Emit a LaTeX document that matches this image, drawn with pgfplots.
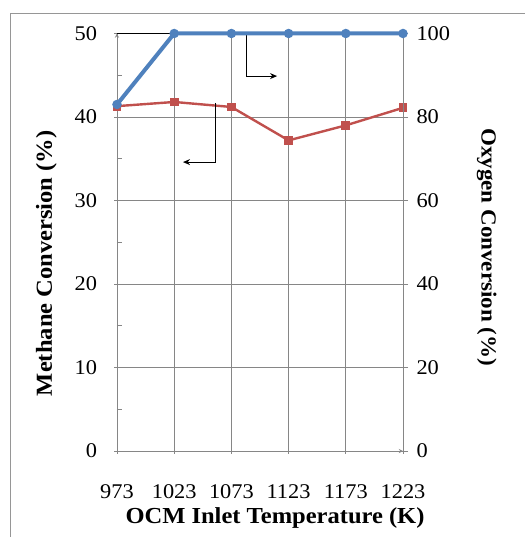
\documentclass[border=0pt]{standalone}
\usepackage{pgfplots}
\pgfplotsset{compat=1.18}
\usepackage{fontspec}
\setmainfont{Liberation Serif}[FakeStretch=1.07]
\usetikzlibrary{arrows.meta,calc}

\definecolor{oxblue}{RGB}{79,129,189}
\definecolor{mered}{RGB}{192,80,77}
\definecolor{gridgray}{RGB}{134,134,134}
\definecolor{framegray}{RGB}{150,150,150}

\pgfplotstableread{
T     methane
973   41.3
1023  41.8
1073  41.2
1123  37.2
1173  39.0
1223  41.1
}\methanedata

\pgfplotstableread{
T     oxygen
973   83.0
1023  100
1073  100
1123  100
1173  100
1223  100
}\oxygendata

\pgfplotsset{
  common/.style={
    scale only axis, width=286bp, height=417.5bp,
    xmin=973, xmax=1223,
    clip=false,
    tick align=outside,
    major tick length=5bp,
    axis line style={gridgray, line width=0.9bp, -},
    every tick/.style={gridgray, line width=0.9bp},
    /pgf/number format/assume math mode=true,
    ticklabel style={font=\fontsize{21}{25}\selectfont},
    label style={font=\fontsize{23}{27}\selectfont\bfseries},
  }
}

\begin{document}
\begin{tikzpicture}

% methane conversion, left scale
\begin{axis}[
  common,
  name=main,
  ymin=0, ymax=50,
  axis x line=bottom, axis y line=left,
  xtick={973,1023,...,1223},
  xticklabels={973,1023,1073,1123,1173,1223},
  ytick={0,10,...,50},
  grid=major,
  major grid style={gridgray, line width=0.9bp},
  yticklabel style={xshift=-14bp},
  xticklabel style={yshift=-28bp},
  xlabel={OCM Inlet Temperature (K)},
  xlabel style={xshift=15bp, yshift=-2bp},
  ylabel={Methane Conversion (\%)},
  ylabel style={yshift=11bp, xshift=-21bp},
]
  \draw[black, line width=1bp] (axis cs:973,50) -- (axis cs:1023,50);
  % short inner minor ticks on the left scale
  \pgfplotsinvokeforeach{5,15,25,35,45}{
    \draw[gridgray, line width=0.9bp] (axis cs:973,#1) -- ++(5bp,0bp);
  }
  \addplot[mered, line width=2.4bp, mark=square*, mark size=3.2bp,
    mark options={solid, fill=mered}] table[x=T, y=methane] {\methanedata};
  % arrow pointing to the left scale
  \draw[black, line width=1bp, -{Stealth[length=7bp, width=6bp]}]
    (axis cs:1058.7,41.7) -- (axis cs:1058.7,34.6) -- (axis cs:1030.7,34.6);
  % arrow pointing to the right scale
  \draw[black, line width=1bp, -{Stealth[length=7bp, width=6bp]}]
    (axis cs:1085.8,50) -- (axis cs:1085.8,44.9) -- (axis cs:1112.9,44.9);
\end{axis}

% oxygen conversion, right scale
\begin{axis}[
  common,
  ymin=0, ymax=100,
  axis x line=none, axis y line*=right,
  ytick={0,20,...,100},
  yticklabel style={xshift=5bp},
  ylabel={Oxygen Conversion (\%)},
  ylabel style={font=\fontsize{21.6}{26}\selectfont\bfseries,
    rotate=180, xshift=5bp, yshift=20bp},
]
  \addplot[oxblue, line width=4bp, mark=*, mark size=2.6bp,
    mark options={solid, fill=oxblue}] table[x=T, y=oxygen] {\oxygendata};
\end{axis}

% page frame, fixed relative to the plot area
\pgfresetboundingbox
\coordinate (P) at ($(main.south west)+(-117bp,-86bp)$);
\useasboundingbox (P) rectangle ($(P)+(525bp,537bp)$);
\draw[framegray, line width=1.2bp]
  ($(P)+(10.5bp,0)$) -- ($(P)+(10.5bp,523.5bp)$) -- ($(P)+(525bp,523.5bp)$);
\end{tikzpicture}
\end{document}
